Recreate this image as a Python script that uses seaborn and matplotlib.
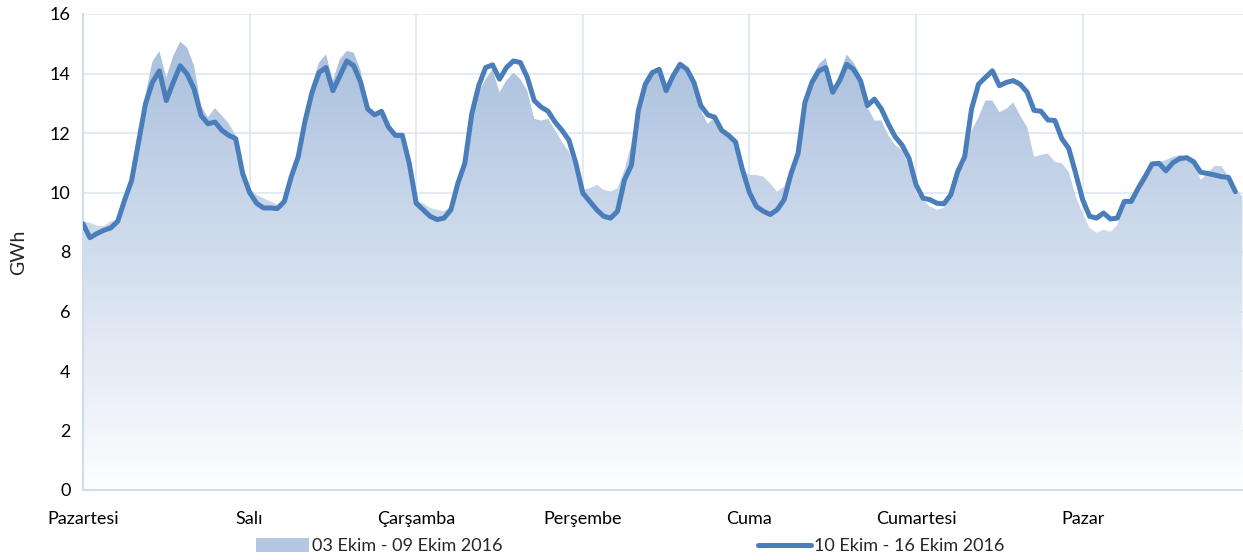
import matplotlib
matplotlib.use('Agg')
import matplotlib.pyplot as plt
import numpy as np
import pandas as pd
import seaborn as sns
from matplotlib.colors import LinearSegmentedColormap
from matplotlib.patches import Patch
from matplotlib.lines import Line2D

# day labels (one per 24 hours)
days = ['Pazartesi', 'Salı', 'Çarşamba', 'Perşembe', 'Cuma', 'Cumartesi', 'Pazar']

# 03 Ekim - 09 Ekim 2016, hourly (GWh)
prev_week = [
    9.03, 8.98, 8.89, 8.87, 9.03, 9.09, 9.76, 10.53, 11.9, 13.3, 14.4, 14.75,
    13.87, 14.59, 15.07, 14.87, 14.26, 12.92, 12.53, 12.84, 12.59, 12.31, 11.92, 10.87,
    10.15, 9.92, 9.81, 9.7, 9.59, 9.76, 10.59, 11.37, 12.64, 13.64, 14.37, 14.64,
    13.76, 14.48, 14.76, 14.7, 14.09, 12.81, 12.61, 12.73, 12.26, 11.92, 11.92, 10.98,
    9.72, 9.64, 9.48, 9.42, 9.37, 9.53, 10.31, 11.09, 12.53, 13.37, 13.81, 14.14,
    13.37, 13.76, 14.03, 13.81, 13.42, 12.48, 12.42, 12.48, 12.09, 11.7, 11.37, 10.76,
    10.1, 10.14, 10.26, 10.09, 10.03, 10.14, 10.76, 11.64, 12.87, 13.7, 13.98, 14.14,
    13.42, 13.98, 14.26, 14.09, 13.7, 12.76, 12.31, 12.53, 12.14, 11.98, 11.64, 10.76,
    10.59, 10.59, 10.53, 10.31, 10.03, 10.2, 10.87, 11.42, 12.98, 13.87, 14.31, 14.53,
    13.42, 13.98, 14.64, 14.37, 13.92, 12.87, 12.42, 12.42, 11.92, 11.59, 11.42, 10.87,
    9.98, 9.76, 9.53, 9.42, 9.48, 9.87, 10.59, 10.98, 12.09, 12.53, 13.09, 13.09,
    12.7, 12.81, 13.03, 12.59, 12.2, 11.2, 11.26, 11.31, 11.03, 10.98, 10.7, 9.87,
    9.3, 8.8, 8.65, 8.75, 8.68, 8.9, 9.64, 9.81, 10.31, 10.7, 10.92, 11.03,
    11.09, 11.2, 11.26, 11.2, 11.09, 10.42, 10.64, 10.89, 10.89, 10.53, 10.14, 9.87,
]

# 10 Ekim - 16 Ekim 2016, hourly (GWh)
this_week = [
    8.95, 8.48, 8.62, 8.73, 8.81, 9.03, 9.75, 10.4, 11.7, 12.98, 13.7, 14.09,
    13.09, 13.7, 14.26, 13.98, 13.48, 12.59, 12.31, 12.37, 12.09, 11.92, 11.81, 10.64,
    10.0, 9.64, 9.48, 9.48, 9.46, 9.7, 10.53, 11.2, 12.42, 13.37, 14.03, 14.2,
    13.42, 13.92, 14.42, 14.26, 13.7, 12.81, 12.61, 12.73, 12.2, 11.92, 11.92, 10.98,
    9.64, 9.42, 9.2, 9.09, 9.14, 9.42, 10.31, 10.98, 12.64, 13.59, 14.2, 14.29,
    13.81, 14.2, 14.42, 14.37, 13.87, 13.09, 12.87, 12.73, 12.37, 12.09, 11.76, 10.98,
    9.98, 9.7, 9.42, 9.2, 9.14, 9.37, 10.42, 10.92, 12.76, 13.64, 14.03, 14.14,
    13.42, 13.92, 14.31, 14.14, 13.7, 12.92, 12.61, 12.53, 12.09, 11.92, 11.7, 10.76,
    10.0, 9.53, 9.37, 9.26, 9.42, 9.76, 10.64, 11.31, 13.03, 13.7, 14.09, 14.2,
    13.37, 13.76, 14.31, 14.14, 13.76, 12.92, 13.14, 12.81, 12.31, 11.87, 11.59, 11.14,
    10.26, 9.81, 9.76, 9.64, 9.62, 9.92, 10.7, 11.2, 12.81, 13.64, 13.87, 14.09,
    13.59, 13.7, 13.76, 13.64, 13.37, 12.76, 12.73, 12.44, 12.42, 11.81, 11.48, 10.64,
    9.76, 9.2, 9.14, 9.31, 9.11, 9.14, 9.7, 9.7, 10.14, 10.53, 10.96, 10.98,
    10.73, 11.0, 11.14, 11.17, 11.03, 10.68, 10.64, 10.59, 10.53, 10.51, 10.03,
]

labels = ['03 Ekim - 09 Ekim 2016', '10 Ekim - 16 Ekim 2016']

sns.set_theme(style='white')
plt.rcParams['font.family'] = ['Lato', 'DejaVu Sans']

line_col = '#4a7ebb'
grid_col = '#dde6f1'

fig = plt.figure(figsize=(12.43, 5.6), dpi=100)
ax = fig.add_axes([83 / 1243, 70 / 560, 1160 / 1243, 476 / 560])

prev = pd.DataFrame({'hour': np.arange(len(prev_week)), 'gwh': prev_week})
curr = pd.DataFrame({'hour': np.arange(len(this_week)), 'gwh': this_week})

# area with vertical gradient: invisible fill used as clip path
poly = ax.fill_between(prev.hour, 0, prev.gwh, facecolor='none', edgecolor='none')
cmap = LinearSegmentedColormap.from_list('fade', ['#fdfeff', '#a9bfdd'])
grad = np.linspace(0, 1, 256).reshape(-1, 1)
img = ax.imshow(grad, cmap=cmap, aspect='auto', origin='lower',
                extent=[0, prev.hour.max(), 0, 15.2], zorder=1)
img.set_clip_path(poly.get_paths()[0], transform=ax.transData)

sns.lineplot(data=curr, x='hour', y='gwh', ax=ax, color=line_col, lw=3.6,
             zorder=3, legend=False)

ax.set_xlim(0, 167.1)
ax.set_ylim(0, 16)
ax.set_xticks(np.arange(0, 168, 24))
ax.set_xticklabels(days)
ax.set_yticks(np.arange(0, 17, 2))
ax.grid(True, color=grid_col, lw=1.2, zorder=0)
ax.set_axisbelow(True)
for s in ['top', 'right']:
    ax.spines[s].set_visible(False)
for s in ['left', 'bottom']:
    ax.spines[s].set_color('#cfdcec')
    ax.spines[s].set_linewidth(1.5)
ax.tick_params(axis='both', which='both', length=5, width=1.2, color='#cfdcec',
               labelsize=13, labelcolor='black', pad=4)
ax.tick_params(axis='x', pad=10)
ax.set_xlabel('')
ax.set_ylabel('GWh', fontsize=14)
ax.yaxis.set_label_coords(-0.048, 0.5)

handles = [Patch(facecolor='#b4c8e3', edgecolor='none'),
           Line2D([0], [0], color=line_col, lw=3.6)]
fig.legend(handles, labels, loc='center', bbox_to_anchor=(0.507, 0.025), ncol=2,
           frameon=False, fontsize=13, handlelength=2.9, handletextpad=0.15,
           columnspacing=14.2, handleheight=0.8)

fig.savefig('out.png', dpi=100)
